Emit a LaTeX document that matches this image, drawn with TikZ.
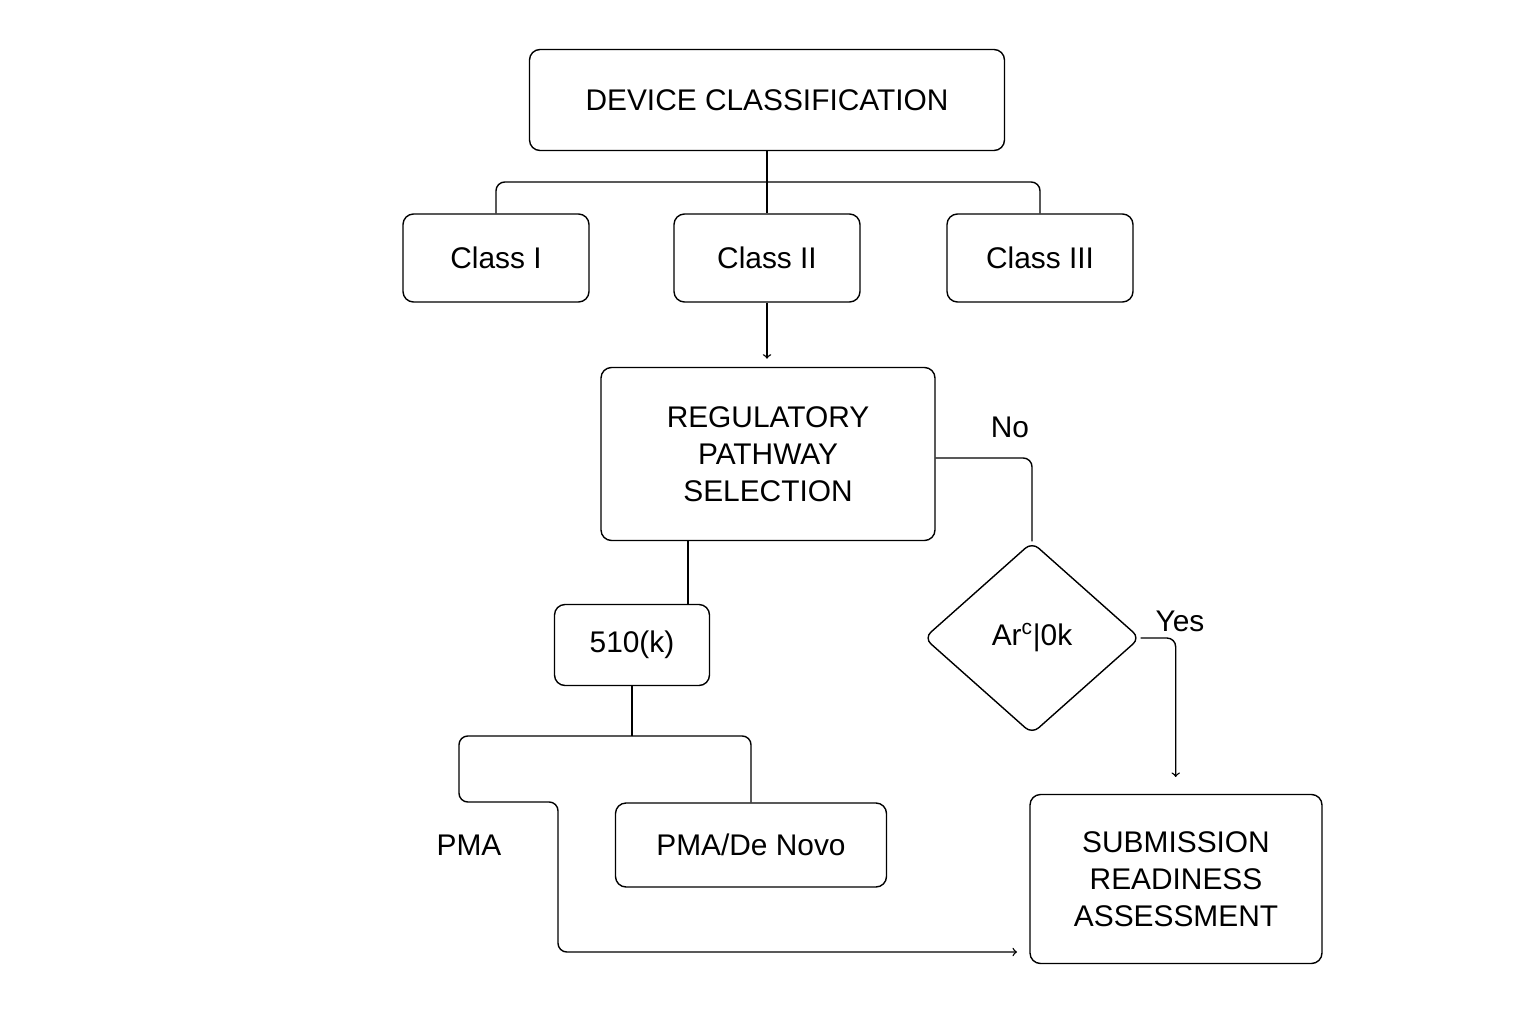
\documentclass[tikz,border=0pt]{standalone}
\usepackage{fontspec}
\setmainfont{Liberation Sans}
\usetikzlibrary{shapes.geometric}
\begin{document}
\begin{tikzpicture}[x=0.02cm,y=-0.02cm,
  box/.style={draw,rounded corners=6pt,line width=0.8pt,align=center,inner sep=0pt,
    font=\fontsize{17}{21}\selectfont},
  lbl/.style={font=\fontsize{17}{21}\selectfont},
  line/.style={line width=0.8pt,rounded corners=5pt},
  arr/.style={line,->}]
\useasboundingbox (0,0) rectangle (1536,1024);
\node[box,minimum width=475*0.02cm,minimum height=101*0.02cm] (dc) at (767,100) {DEVICE CLASSIFICATION};
\node[box,minimum width=186*0.02cm,minimum height=88*0.02cm] (c1) at (496,258) {Class I};
\node[box,minimum width=186*0.02cm,minimum height=88*0.02cm] (c2) at (767,258) {Class II};
\node[box,minimum width=186*0.02cm,minimum height=88*0.02cm] (c3) at (1040,258) {Class III};
\node[box,minimum width=334*0.02cm,minimum height=173*0.02cm] (rps) at (768,454) {REGULATORY\\ PATHWAY\\ SELECTION};
\node[box,minimum width=155*0.02cm,minimum height=81*0.02cm] (k) at (632,645) {510(k)};
\node[draw,diamond,line width=0.8pt,rounded corners=5pt,minimum width=216*0.02cm,minimum height=192*0.02cm,inner sep=0pt,
  font=\fontsize{17}{21}\rmfamily\selectfont] (dec) at (1032,638) {Ar\textsuperscript{c}|0k};
\node[box,minimum width=271*0.02cm,minimum height=84*0.02cm] (pma) at (751,845) {PMA/De Novo};
\node[box,minimum width=292*0.02cm,minimum height=169*0.02cm] (sra) at (1176,879) {SUBMISSION\\ READINESS\\ ASSESSMENT};
\node[lbl] (pmal) at (469,845) {PMA};
\node[lbl] (no) at (1010,427) {No};
\node[lbl] (yes) at (1180,621) {Yes};
\coordinate (b1) at (767,182);
\coordinate (b2) at (632,736);
\coordinate (pend) at (1017,952);
\draw[line] (dc.south) -- (c2.north);
\draw[line] (c1.north) |- (b1) -| (c3.north);
\draw[arr] (c2.south) -- ++(0,56);
\draw[line] (rps.east |- 0,458) -| (dec.north);
\draw[arr] (dec.east) -| ++(35,139);
\draw[line] (rps.south -| 688,0) -- (k.north -| 688,0);
\draw[line] (k.south) -- (b2);
\draw[line] (b2) -| (pma.north);
\draw[arr] (b2) -| (459,802) -| (558,952) -- (pend);
\end{tikzpicture}
\end{document}
